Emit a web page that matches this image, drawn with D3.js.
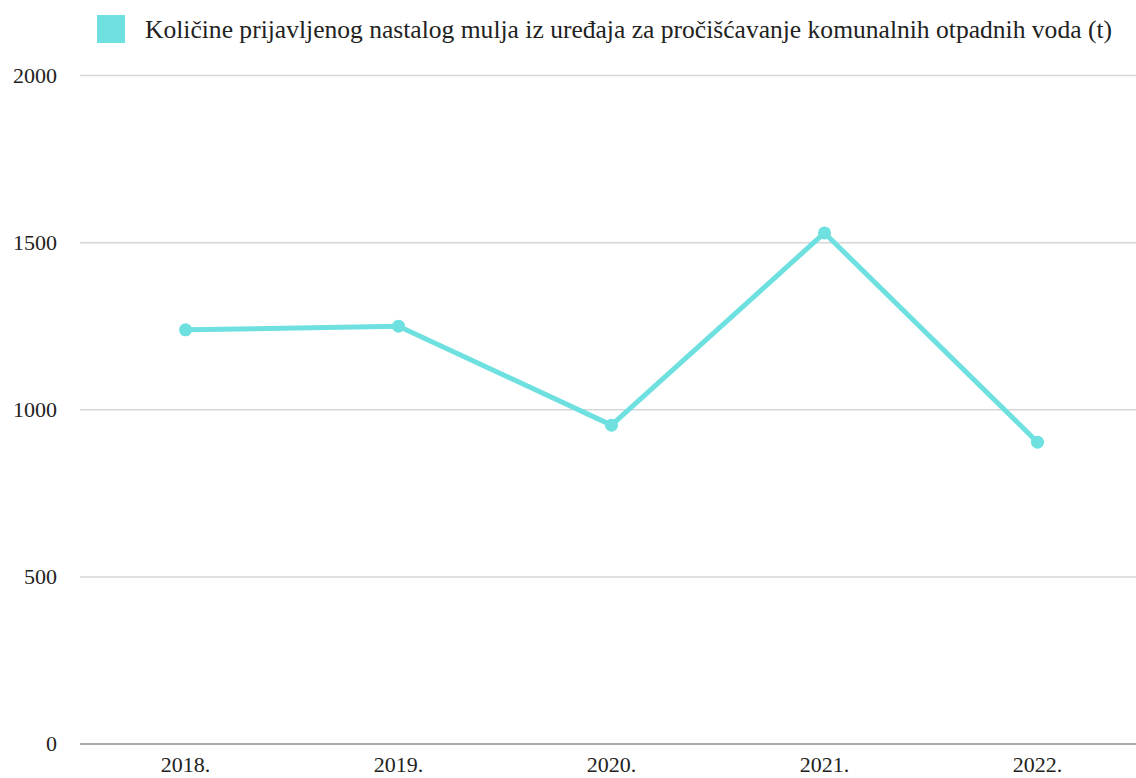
<!DOCTYPE html>
<html><head><meta charset="utf-8">
<script src="https://cdn.jsdelivr.net/npm/d3@7"></script>
<style>body{margin:0;background:#fff}svg{display:block}</style>
</head><body>
<svg id="c" width="1136" height="778"></svg>
<script>
const categories = ["2018.", "2019.", "2020.", "2021.", "2022."];
const values = [1239, 1250, 954, 1529, 903];
const yTicks = [0, 500, 1000, 1500, 2000];
const seriesName = "Količine prijavljenog nastalog mulja iz uređaja za pročišćavanje komunalnih otpadnih voda (t)";

const svg = d3.select("#c");
const font = "'Liberation Serif', 'DejaVu Serif', serif";
const color = "#6fe0e0";
const y = d3.scaleLinear().domain([0, 2000]).range([744, 75.5]);
const x = d3.scaleBand().domain(categories).range([79, 1144]);
const cx = d => x(d) + x.bandwidth() / 2;

// gridlines
svg.append("g").selectAll("line").data(yTicks).join("line")
  .attr("x1", 80).attr("x2", 1136)
  .attr("y1", d => y(d)).attr("y2", d => y(d))
  .attr("stroke", d => d === 0 ? "#aaa" : "#d6d6d6").attr("stroke-width", d => d === 0 ? 2 : 1.5);

// y labels
svg.append("g").selectAll("text").data(yTicks).join("text")
  .attr("x", 57).attr("y", d => y(d)).attr("dy", "0.33em")
  .attr("text-anchor", "end").attr("font-family", font).attr("font-size", 22).attr("fill", "#222")
  .text(d => d);

// x labels
svg.append("g").selectAll("text").data(categories).join("text")
  .attr("x", d => cx(d)).attr("y", 772)
  .attr("text-anchor", "middle").attr("font-family", font).attr("font-size", 22).attr("fill", "#222")
  .text(d => d);

// line
const line = d3.line().x((d, i) => cx(categories[i])).y(d => y(d));
svg.append("path").datum(values).attr("d", line)
  .attr("fill", "none").attr("stroke", color).attr("stroke-width", 5).attr("stroke-linejoin", "round");
svg.append("g").selectAll("circle").data(values).join("circle")
  .attr("cx", (d, i) => cx(categories[i])).attr("cy", d => y(d)).attr("r", 6.5).attr("fill", color);

// legend
svg.append("rect").attr("x", 97).attr("y", 15).attr("width", 28).attr("height", 28).attr("fill", color);
svg.append("text").attr("x", 145).attr("y", 38)
  .attr("font-family", font).attr("font-size", 25).attr("fill", "#222").text(seriesName)
  .attr("textLength", 967).attr("lengthAdjust", "spacingAndGlyphs");
</script>
</body></html>
